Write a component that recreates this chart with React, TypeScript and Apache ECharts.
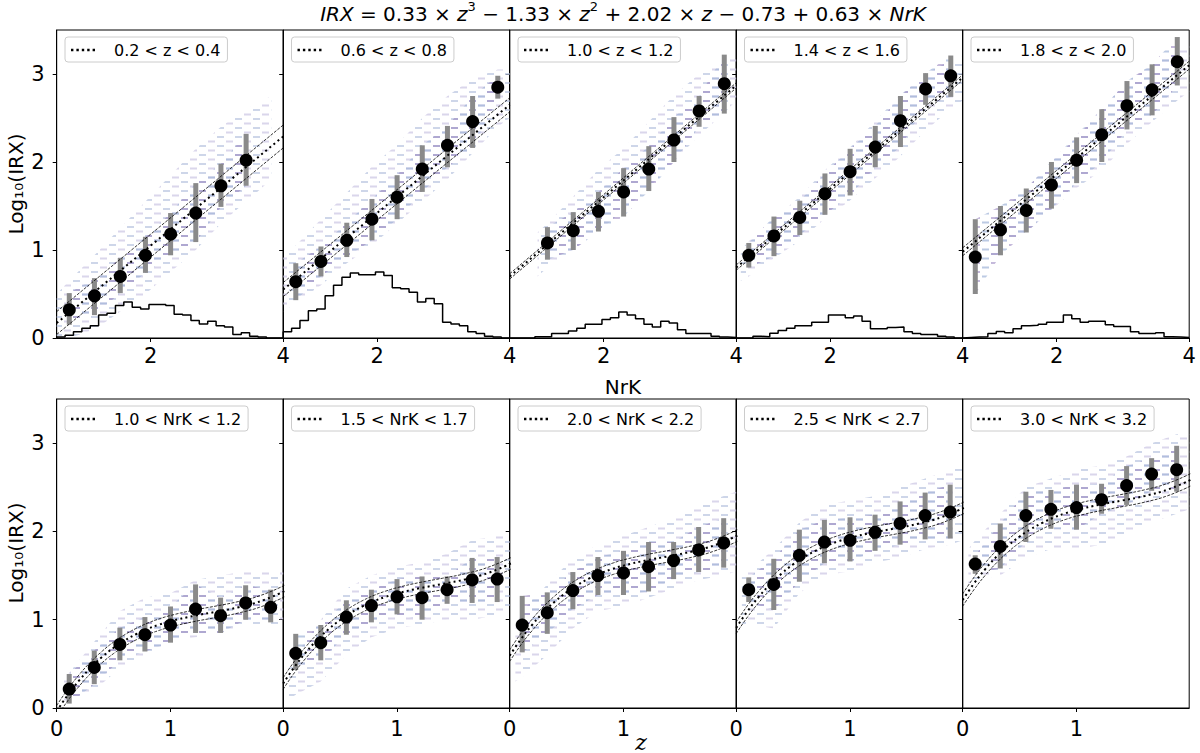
import * as echarts from "echarts";
import { useEffect, useRef } from "react";

const FONT = "DejaVu Sans";

// panel labels
const zBinLabels = ["0.2 < z < 0.4", "0.6 < z < 0.8", "1.0 < z < 1.2", "1.4 < z < 1.6", "1.8 < z < 2.0"];
const nrkBinLabels = ["1.0 < NrK < 1.2", "1.5 < NrK < 1.7", "2.0 < NrK < 2.2", "2.5 < NrK < 2.7", "3.0 < NrK < 3.2"];

// binned medians (top row: x = NrK, bottom row: x = z)
const nrkBinCenters = [0.77, 1.15, 1.54, 1.92, 2.3, 2.68, 3.06, 3.44, 3.82];
const zBinCenters = [0.11, 0.33, 0.555, 0.775, 1.0, 1.22, 1.44, 1.66, 1.88];

const topMedian = [
  [0.32, 0.48, 0.7, 0.94, 1.18, 1.42, 1.73, 2.02, null],
  [0.64, 0.87, 1.11, 1.35, 1.6, 1.92, 2.19, 2.46, 2.85],
  [null, 1.08, 1.22, 1.44, 1.66, 1.92, 2.25, 2.58, 2.89],
  [0.94, 1.16, 1.37, 1.64, 1.89, 2.17, 2.47, 2.83, 2.98],
  [0.92, 1.23, 1.45, 1.74, 2.02, 2.31, 2.64, 2.82, 3.14],
];
const topErrLow = [
  [0.15, 0.26, 0.51, 0.74, 0.94, 1.09, 1.49, 1.73, null],
  [0.43, 0.7, 0.92, 1.11, 1.35, 1.66, 1.94, 2.16, 2.72],
  [null, 0.89, 1.0, 1.21, 1.38, 1.67, 2.0, 2.4, 2.55],
  [0.8, 0.93, 1.17, 1.4, 1.62, 1.94, 2.17, 2.65, 2.74],
  [0.5, 0.94, 1.2, 1.47, 1.76, 2.0, 2.37, 2.53, 2.87],
];
const topErrHigh = [
  [0.51, 0.68, 0.91, 1.15, 1.42, 1.76, 1.98, 2.32, null],
  [0.85, 1.04, 1.31, 1.58, 1.85, 2.19, 2.41, 2.75, 2.98],
  [null, 1.26, 1.43, 1.66, 1.93, 2.18, 2.51, 2.75, 3.22],
  [1.08, 1.38, 1.56, 1.87, 2.15, 2.41, 2.75, 3.01, 3.21],
  [1.35, 1.5, 1.7, 2.0, 2.28, 2.6, 2.92, 3.11, 3.42],
];

const bottomMedian = [
  [0.215, 0.46, 0.72, 0.83, 0.94, 1.12, 1.045, 1.19, 1.14],
  [0.62, 0.74, 1.03, 1.16, 1.26, 1.25, 1.34, 1.45, 1.46],
  [0.94, 1.08, 1.33, 1.5, 1.53, 1.6, 1.67, 1.79, 1.87],
  [1.34, 1.4, 1.73, 1.88, 1.9, 1.99, 2.09, 2.18, 2.22],
  [1.63, 1.83, 2.18, 2.25, 2.27, 2.36, 2.52, 2.65, 2.7],
];
const bottomErrLow = [
  [0.05, 0.27, 0.54, 0.64, 0.74, 0.85, 0.85, 1.0, 0.97],
  [0.43, 0.54, 0.83, 0.97, 1.06, 1.0, 1.18, 1.19, 1.2],
  [0.63, 0.84, 1.12, 1.28, 1.28, 1.32, 1.46, 1.54, 1.59],
  [1.2, 1.11, 1.43, 1.64, 1.66, 1.78, 1.85, 1.91, 1.92],
  [1.52, 1.58, 1.88, 2.03, 2.02, 2.2, 2.3, 2.46, 2.45],
];
const bottomErrHigh = [
  [0.385, 0.65, 0.91, 1.03, 1.15, 1.4, 1.25, 1.39, 1.34],
  [0.84, 0.94, 1.22, 1.34, 1.46, 1.49, 1.49, 1.7, 1.71],
  [1.27, 1.31, 1.54, 1.71, 1.78, 1.88, 1.88, 2.05, 2.15],
  [1.48, 1.69, 2.02, 2.13, 2.16, 2.19, 2.34, 2.44, 2.53],
  [1.73, 2.09, 2.45, 2.47, 2.53, 2.54, 2.74, 2.83, 2.97],
];

// model lines: top row straight lines between NrK = 0.58 and 4
const nrkLineEnds = [0.58, 4.0];
const topFitLine = [
  [0.17, 2.29],
  [0.55, 2.65],
  [0.7, 2.87],
  [0.8, 2.96],
  [0.98, 3.1],
];
const topFitHalfWidth = [0.13, 0.08, 0.03, 0.03, 0.045];

// model curves in the bottom row, read at these z
const zCurveGrid = [0, 0.1, 0.2, 0.3, 0.4, 0.5, 0.6, 0.7, 0.8, 0.9, 1.0, 1.2, 1.4, 1.6, 1.8, 2.0];
const bottomFitCurve = [
  [-0.037, 0.152, 0.316, 0.458, 0.579, 0.682, 0.767, 0.838, 0.897, 0.944, 0.983, 1.042, 1.09, 1.142, 1.214, 1.323],
  [0.278, 0.467, 0.631, 0.773, 0.894, 0.997, 1.082, 1.153, 1.212, 1.259, 1.298, 1.357, 1.405, 1.457, 1.529, 1.638],
  [0.593, 0.782, 0.946, 1.088, 1.209, 1.312, 1.397, 1.468, 1.527, 1.574, 1.613, 1.672, 1.72, 1.772, 1.844, 1.953],
  [0.908, 1.097, 1.261, 1.403, 1.524, 1.627, 1.712, 1.783, 1.842, 1.889, 1.928, 1.987, 2.035, 2.087, 2.159, 2.268],
  [1.223, 1.412, 1.576, 1.718, 1.839, 1.942, 2.027, 2.098, 2.157, 2.204, 2.243, 2.302, 2.35, 2.402, 2.474, 2.583],
];
const bottomFitHalfWidth = [0.065, 0.065, 0.065, 0.065, 0.07];

// NrK histograms (top row)
const histEdges = [0.58, 0.707, 0.833, 0.96, 1.087, 1.213, 1.34, 1.467, 1.593, 1.72, 1.847, 1.973, 2.1, 2.227,
  2.353, 2.48, 2.607, 2.733, 2.86, 2.987, 3.113, 3.24, 3.367, 3.493, 3.62, 3.747, 3.873, 4.0];
const topHist = [
  [0.01, 0.03, 0.07, 0.11, 0.14, 0.26, 0.28, 0.37, 0.41, 0.35, 0.33, 0.38, 0.38, 0.37, 0.27, 0.26, 0.2, 0.16, 0.19, 0.14, 0.125, 0.04, 0.06, 0.02, 0.01, 0, 0],
  [0.07, 0.11, 0.2, 0.31, 0.33, 0.48, 0.6, 0.69, 0.74, 0.72, 0.72, 0.75, 0.71, 0.57, 0.56, 0.52, 0.41, 0.45, 0.39, 0.18, 0.16, 0.14, 0.07, 0.05, 0.02, 0.01, 0],
  [0, 0, 0, 0.015, 0.015, 0.05, 0.05, 0.08, 0.11, 0.155, 0.155, 0.21, 0.23, 0.295, 0.26, 0.22, 0.155, 0.125, 0.19, 0.17, 0.095, 0.05, 0.05, 0.05, 0.02, 0.01, 0.005],
  [0, 0, 0.02, 0.015, 0.055, 0.085, 0.11, 0.14, 0.14, 0.18, 0.18, 0.26, 0.26, 0.23, 0.25, 0.19, 0.105, 0.105, 0.12, 0.125, 0.07, 0.05, 0.04, 0.04, 0.02, 0.01, 0],
  [0.005, 0.01, 0.015, 0.05, 0.075, 0.06, 0.105, 0.14, 0.145, 0.155, 0.18, 0.18, 0.26, 0.22, 0.18, 0.19, 0.19, 0.15, 0.13, 0.13, 0.07, 0.05, 0.05, 0.06, 0.015, 0.01, 0.005],
];

// rough extent of the density cloud: [x, low, high]
const topCloud = [
  [[0.58, 0.0, 0.5], [0.77, 0.0, 0.65], [1.16, 0.1, 0.95], [1.54, 0.3, 1.25], [1.92, 0.5, 1.55], [2.3, 0.75, 1.85], [2.68, 1.0, 2.15], [3.06, 1.3, 2.4], [3.44, 1.55, 2.6], [3.82, 1.8, 2.75]],
  [[0.58, 0.3, 0.95], [0.77, 0.4, 1.05], [1.15, 0.6, 1.35], [1.54, 0.85, 1.65], [1.92, 1.05, 1.95], [2.3, 1.3, 2.2], [2.68, 1.55, 2.5], [3.06, 1.8, 2.75], [3.44, 2.1, 2.95], [3.82, 2.4, 3.05], [4.0, 2.5, 3.05]],
  [[1.0, 0.7, 1.2], [1.15, 0.8, 1.3], [1.53, 1.0, 1.6], [1.9, 1.2, 1.9], [2.29, 1.45, 2.15], [2.67, 1.7, 2.45], [3.05, 2.0, 2.75], [3.44, 2.3, 3.0], [3.81, 2.55, 3.15], [4.0, 2.7, 3.2]],
  [[0.65, 0.65, 1.0], [0.77, 0.7, 1.1], [1.14, 0.9, 1.35], [1.53, 1.1, 1.6], [1.91, 1.35, 1.9], [2.28, 1.55, 2.15], [2.66, 1.8, 2.45], [3.04, 2.05, 2.75], [3.43, 2.35, 3.0], [3.81, 2.6, 3.15], [4.0, 2.7, 3.2]],
  [[1.0, 0.85, 1.3], [1.16, 1.0, 1.45], [1.54, 1.2, 1.7], [1.91, 1.45, 2.0], [2.29, 1.7, 2.3], [2.67, 1.9, 2.6], [3.05, 2.2, 2.9], [3.43, 2.45, 3.1], [3.82, 2.7, 3.3], [4.0, 2.8, 3.35]],
];
const bottomCloud = [
  [[0.05, 0.0, 0.3], [0.11, 0.05, 0.4], [0.33, 0.2, 0.75], [0.555, 0.45, 1.1], [0.775, 0.6, 1.25], [1.0, 0.75, 1.3], [1.22, 0.8, 1.45], [1.44, 0.85, 1.5], [1.66, 0.95, 1.55], [1.88, 0.95, 1.55], [1.99, 0.95, 1.55]],
  [[0.05, 0.1, 0.5], [0.11, 0.15, 0.6], [0.33, 0.3, 1.0], [0.555, 0.6, 1.35], [0.775, 0.8, 1.5], [1.0, 0.9, 1.6], [1.22, 0.95, 1.65], [1.44, 1.0, 1.75], [1.66, 1.0, 1.9], [1.88, 1.05, 1.95], [1.99, 1.1, 1.95]],
  [[0.05, 0.3, 0.9], [0.11, 0.35, 1.1], [0.33, 0.6, 1.4], [0.555, 0.9, 1.7], [0.775, 1.1, 1.85], [1.0, 1.15, 1.95], [1.22, 1.25, 2.05], [1.44, 1.35, 2.15], [1.66, 1.45, 2.3], [1.88, 1.5, 2.4], [1.99, 1.55, 2.45]],
  [[0.05, 0.9, 1.5], [0.11, 0.95, 1.55], [0.33, 0.9, 1.8], [0.555, 1.3, 2.1], [0.775, 1.5, 2.3], [1.0, 1.55, 2.35], [1.22, 1.65, 2.4], [1.44, 1.7, 2.5], [1.66, 1.8, 2.6], [1.88, 1.85, 2.7], [1.99, 1.9, 2.75]],
  [[0.05, 1.4, 1.8], [0.11, 1.45, 1.9], [0.33, 1.5, 2.2], [0.555, 1.7, 2.5], [0.775, 1.8, 2.6], [1.0, 1.8, 2.7], [1.22, 1.85, 2.75], [1.44, 1.95, 2.85], [1.66, 2.1, 3.0], [1.88, 2.2, 3.1], [1.99, 2.25, 3.1]],
];

const PANEL_LEFT = 56.7;
const PANEL_WIDTH = 226.5;
const ROWS = [
  { top: 30, height: 308 },
  { top: 399, height: 309 },
];

const DOT_ICON =
  "path://M0,0h2.4v2.4h-2.4z M5.4,0h2.4v2.4h-2.4z M10.8,0h2.4v2.4h-2.4z M16.2,0h2.4v2.4h-2.4z M21.6,0h2.4v2.4h-2.4z";

// hexbin-like texture: short horizontal dashes on offset rows
function makeDashPattern(colorA, colorB, fallback) {
  try {
    const c = document.createElement("canvas");
    c.width = 18;
    c.height = 9;
    const ctx = c.getContext("2d");
    if (!ctx) return fallback;
    ctx.fillStyle = colorA;
    ctx.fillRect(1, 1, 7, 2);
    ctx.fillStyle = colorB;
    ctx.fillRect(10, 5.5, 7, 2);
    return { image: c.toDataURL(), repeat: "repeat", imageWidth: 18, imageHeight: 9 };
  } catch (e) {
    return fallback;
  }
}

function bandRenderer(rows, fill) {
  return (params, api) => {
    const upper = rows.map((r) => api.coord([r[0], r[2]]));
    const lower = rows
      .slice()
      .reverse()
      .map((r) => api.coord([r[0], r[1]]));
    return {
      type: "polygon",
      shape: { points: upper.concat(lower) },
      style: { fill },
    };
  };
}

function errorBarRenderer(params, api) {
  const hi = api.coord([api.value(0), api.value(2)]);
  const lo = api.coord([api.value(0), api.value(1)]);
  return {
    type: "rect",
    shape: { x: hi[0] - 2.5, y: hi[1], width: 5, height: lo[1] - hi[1] },
    style: { fill: "#8a8a8a" },
  };
}

function getChartOption() {
  const grid = [];
  const xAxis = [];
  const yAxis = [];
  const series = [];
  const legend = [];

  const outerFill = makeDashPattern("rgba(190,200,225,0.75)", "rgba(205,200,228,0.75)", "rgba(178,188,222,0.12)");
  const innerFill = makeDashPattern("rgba(150,130,190,0.55)", "rgba(160,180,215,0.7)", "rgba(150,125,190,0.12)");

  for (let row = 0; row < 2; row++) {
    const isTop = row === 0;
    for (let col = 0; col < 5; col++) {
      const idx = row * 5 + col;
      const left = PANEL_LEFT + col * PANEL_WIDTH;
      grid.push({
        left,
        top: ROWS[row].top,
        width: PANEL_WIDTH,
        height: ROWS[row].height,
        show: true,
        borderColor: "#000",
        borderWidth: 1,
      });
      const xTicks = isTop ? [2, 4] : [0, 1];
      xAxis.push({
        type: "value",
        gridIndex: idx,
        min: isTop ? 0.58 : 0,
        max: isTop ? 4 : 1.99,
        axisLine: { show: true, onZero: false, lineStyle: { color: "#000", width: 1 } },
        axisTick: { show: true, length: 4, customValues: xTicks, lineStyle: { color: "#000" } },
        axisLabel: {
          customValues: xTicks,
          fontSize: 21,
          fontFamily: FONT,
          color: "#000",
          margin: isTop ? 7 : 10,
        },
        splitLine: { show: false },
      });
      yAxis.push({
        type: "value",
        gridIndex: idx,
        min: 0,
        max: 3.5,
        axisLine: { show: true, onZero: false, lineStyle: { color: "#000", width: 1 } },
        axisTick: { show: true, length: 4, customValues: [0, 1, 2, 3], lineStyle: { color: "#000" } },
        axisLabel: {
          show: col === 0,
          customValues: [0, 1, 2, 3],
          fontSize: 21,
          fontFamily: FONT,
          color: "#000",
          margin: 12,
        },
        splitLine: { show: false },
      });

      const centers = isTop ? nrkBinCenters : zBinCenters;
      const med = isTop ? topMedian[col] : bottomMedian[col];
      const lo = isTop ? topErrLow[col] : bottomErrLow[col];
      const hi = isTop ? topErrHigh[col] : bottomErrHigh[col];
      const cloud = isTop ? topCloud[col] : bottomCloud[col];
      const label = isTop ? zBinLabels[col] : nrkBinLabels[col];
      const axes = { xAxisIndex: idx, yAxisIndex: idx, silent: true };

      const inner = centers
        .map((x, i) => [x, lo[i], hi[i]])
        .filter((r) => r[1] != null);

      series.push({
        ...axes,
        type: "custom",
        data: [0],
        renderItem: bandRenderer(cloud, outerFill),
      });
      series.push({
        ...axes,
        type: "custom",
        data: [0],
        renderItem: bandRenderer(inner, innerFill),
      });

      if (isTop) {
        const h = topHist[col];
        const pts = [[histEdges[0], 0]];
        h.forEach((v, k) => pts.push([histEdges[k], v]));
        pts.push([histEdges[histEdges.length - 1], h[h.length - 1]]);
        pts.push([histEdges[histEdges.length - 1], 0]);
        series.push({
          ...axes,
          type: "line",
          step: "end",
          symbol: "none",
          data: pts,
          lineStyle: { color: "#000", width: 1.5 },
        });
      }

      // model + its band
      let center;
      let half;
      if (isTop) {
        center = nrkLineEnds.map((x, i) => [x, topFitLine[col][i]]);
        half = topFitHalfWidth[col];
      } else {
        center = zCurveGrid.map((z, i) => [z, bottomFitCurve[col][i]]);
        half = bottomFitHalfWidth[col];
      }
      [half, -half].forEach((d) => {
        series.push({
          ...axes,
          type: "line",
          symbol: "none",
          smooth: !isTop,
          data: center.map(([x, y]) => [x, y + d]),
          lineStyle: { color: "#000", width: 0.8, type: [3, 1.4] },
        });
      });
      series.push({
        ...axes,
        name: label,
        type: "line",
        symbol: "none",
        smooth: !isTop,
        data: center,
        lineStyle: { color: "#000", width: 2, type: [2, 3.3] },
        itemStyle: { color: "#000" },
      });

      series.push({
        ...axes,
        type: "custom",
        data: centers.map((x, i) => [x, lo[i], hi[i]]).filter((r) => r[1] != null),
        encode: { x: 0, y: [1, 2] },
        renderItem: errorBarRenderer,
      });
      series.push({
        ...axes,
        type: "scatter",
        symbolSize: 13,
        data: centers.map((x, i) => [x, med[i]]).filter((r) => r[1] != null),
        itemStyle: { color: "#000", opacity: 1 },
      });

      legend.push({
        data: [label],
        left: left + 8.3,
        top: ROWS[row].top + 7,
        icon: DOT_ICON,
        itemWidth: 24,
        itemHeight: 2.4,
        padding: [5, 7, 4, 6],
        backgroundColor: "rgba(255,255,255,0.8)",
        borderColor: "#cccccc",
        borderWidth: 1,
        borderRadius: 3,
        selectedMode: false,
        itemStyle: { color: "#000" },
        textStyle: { fontSize: 16, fontFamily: FONT, color: "#000", padding: [0, 0, 0, 14] },
      });
    }
  }

  const titleText =
    "{i|IRX} = 0.33 × {i|z}{sup|3} − 1.33 × {i|z}{sup|2} + 2.02 × {i|z} − 0.73 + 0.63 × {i|NrK}";

  return {
    animation: false,
    backgroundColor: "#fff",
    grid,
    xAxis,
    yAxis,
    legend,
    series,
    graphic: [
      {
        type: "text",
        x: 623,
        y: 14,
        style: {
          text: titleText,
          fontSize: 20,
          fontFamily: FONT,
          fill: "#000",
          align: "center",
          verticalAlign: "middle",
          lineHeight: 28,
          rich: {
            i: { fontStyle: "italic", fontSize: 20, fontFamily: FONT, lineHeight: 28 },
            sup: { fontSize: 13, fontFamily: FONT, lineHeight: 15, verticalAlign: "top" },
          },
        },
      },
      {
        type: "text",
        x: 16,
        y: 184,
        rotation: Math.PI / 2,
        style: { text: "Log₁₀(IRX)", fontSize: 20, fontFamily: FONT, fill: "#000", align: "center", verticalAlign: "middle" },
      },
      {
        type: "text",
        x: 16,
        y: 553,
        rotation: Math.PI / 2,
        style: { text: "Log₁₀(IRX)", fontSize: 20, fontFamily: FONT, fill: "#000", align: "center", verticalAlign: "middle" },
      },
      {
        type: "text",
        x: 623,
        y: 387,
        style: { text: "NrK", fontSize: 20, fontFamily: FONT, fill: "#000", align: "center", verticalAlign: "middle" },
      },
      {
        type: "text",
        x: 641,
        y: 742,
        style: {
          text: "z",
          fontSize: 22,
          fontStyle: "italic",
          fontFamily: "DejaVu Serif",
          fill: "#000",
          align: "center",
          verticalAlign: "middle",
        },
      },
    ],
  };
}

export default function App() {
  const chartRef = useRef(null);
  useEffect(() => {
    const chart = echarts.init(chartRef.current, null, { renderer: "svg" });
    chart.setOption(getChartOption());
    return () => {
      chart.dispose();
    };
  }, []);

  return (
    <div
      ref={chartRef}
      style={{ position: "absolute", left: 0, top: 0, width: 1200, height: 753 }}
    />
  );
}
